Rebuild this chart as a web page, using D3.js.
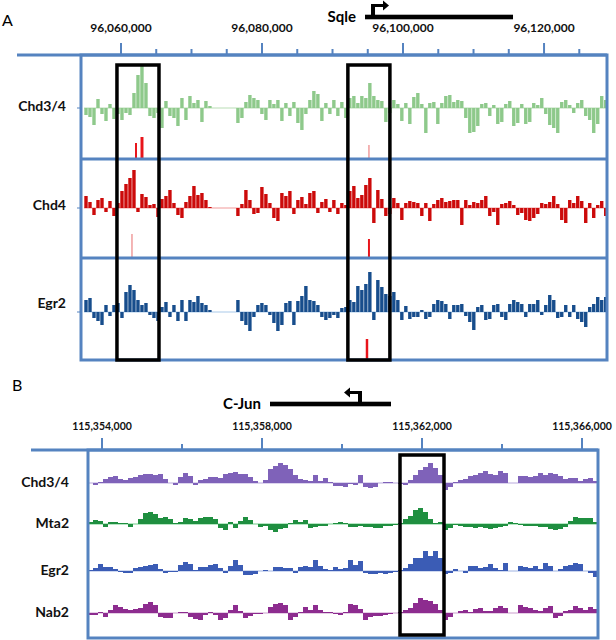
<!DOCTYPE html>
<html><head><meta charset="utf-8">
<script src="https://cdn.jsdelivr.net/npm/d3@7"></script>
<style>body{margin:0;background:#fff}</style>
</head><body>
<svg id="c" width="616" height="640"></svg>
<script>
// ---------------- Panel A data ----------------
const aTicksMajor = [96060000, 96080000, 96100000, 96120000];
const aTicksMinor = [96065000, 96070000, 96075000, 96085000, 96090000, 96095000, 96105000, 96110000, 96115000, 96125000];
const aTrackNames = ["Chd3/4", "Chd4", "Egr2"];
const aStart = 96054755;   // genomic start of first signal bin
const aStep = 567;         // bp per bin
const aChd34 = [-7,-9,-17,9,-6,-13,4,-11,-6,-12,-5,-7,15,33,42,25,-8,-10,-5,-20,7,-8,-10,-18,10,-12,12,5,8,-14,7,2,0,0,0,0,0,0,-15,-10,6,13,10,8,-6,-12,8,4,8,-13,5,-8,6,-15,-22,-6,8,17,14,-13,5,-6,8,-8,6,-10,10,12,5,12,10,25,12,8,7,-14,-5,8,4,-13,5,-16,11,15,4,-25,5,6,-16,5,12,13,6,8,7,-10,-25,-24,-18,4,5,-8,3,-16,-14,4,7,-18,-15,4,-16,-14,5,3,10,-6,-17,-20,-25,6,8,3,-5,5,8,-8,-12,-25,-16,12,8];
const aChd4 = [12,6,-7,8,10,-4,7,-8,5,17,24,30,38,-4,14,11,3,4,-9,9,12,18,5,-7,-10,6,12,22,13,15,8,1,0,0,0,0,0,0,-8,4,18,8,-6,-5,21,14,5,-10,-13,15,12,17,-6,8,11,4,15,17,-5,6,9,-4,8,-6,5,3,17,22,10,13,23,30,-15,18,9,-8,-6,10,5,-12,5,7,6,5,-8,5,-13,4,8,10,6,7,8,8,-17,8,3,6,5,8,12,-8,-4,-17,4,5,7,3,-7,-5,-12,-13,-10,-6,5,4,6,12,4,-12,-15,8,5,12,7,-15,5,-10,3,7,-8];
const aEgr2 = [12,14,-6,-9,-13,7,-4,7,9,-6,20,27,22,12,7,9,-3,-6,-9,5,10,-5,7,-9,12,-9,12,10,16,9,7,2,0,0,0,0,0,0,12,-9,-13,-19,-5,7,9,7,-3,-11,-19,-13,9,11,-13,11,16,26,12,11,7,-5,-8,-6,-3,-6,4,5,12,10,26,22,28,40,-8,32,25,18,16,20,12,-8,6,-7,-5,-5,2,-7,-5,8,12,11,8,-7,7,7,8,-4,-10,-18,5,7,-8,-7,7,8,-5,-8,8,12,10,8,-5,8,8,12,-3,7,17,12,-6,-5,7,-5,7,-7,-10,-15,5,8,15,12,15];
const aPeakTrack = [0, 0, 0, 1, 1, 2];
const aPeakPos = [96062130, 96062980, 96095170, 96061560, 96095170, 96094890];
const aPeakWidth = [280, 420, 140, 140, 280, 350];
const aPeakHeight = [15, 21, 13, 23, 18, 20];
const aBoxStart = [96059430, 96092180];
const aBoxEnd = [96065390, 96098140];
const aGene = ["Sqle"], aGeneStart = [96094610], aGeneEnd = [96115600], aGeneTss = [96095745], aGeneDir = [1];

// ---------------- Panel B data ----------------
const bTicksMajor = [115354000, 115358000, 115362000, 115366000];
const bTicksMinor = [115356000, 115360000, 115364000];
const bTrackNames = ["Chd3/4", "Mta2", "Egr2", "Nab2"];
const bStart = 115353650;
const bStep = 125;
const bChd34 = [0,-2,1,4,6,7,4,3,5,6,8,9,9,8,9,4,0,-2,6,10,7,-2,3,4,6,6,5,9,10,11,9,9,6,2,0,3,14,17,20,18,14,8,4,3,2,8,2,5,1,-3,-3,-4,-1,-2,8,-4,-5,-4,0,1,1,0,-1,-2,3,8,13,16,20,15,8,-7,-4,1,3,4,7,8,10,12,9,8,12,10,0,0,7,7,6,7,10,8,10,9,7,4,5,5,2,4,5,2];
const bMta2 = [2,4,3,-3,2,2,1,1,-3,0,5,11,12,10,6,7,5,1,2,6,5,3,6,7,7,5,-4,-6,2,-4,3,7,4,0,-3,-2,-6,-8,-5,-4,1,4,2,4,-4,-3,-2,-2,0,1,2,1,-3,-3,-2,-3,-3,-4,-4,-2,-2,-1,1,5,8,14,16,12,5,1,2,-6,-4,-1,-2,-3,-3,-4,-3,-4,-5,-4,-3,-2,2,1,-1,-2,-2,-2,-3,-3,-5,-6,-5,-3,3,7,6,6,6,2];
const bEgr2 = [1,3,7,4,4,2,-1,-2,-2,3,4,5,6,7,2,-2,-1,-1,6,9,7,1,4,4,6,7,3,-2,5,11,6,-4,-4,-3,0,1,0,4,4,3,3,-2,4,5,4,11,5,2,1,4,2,3,11,6,10,-2,-3,-3,-2,-3,-2,-1,1,3,7,13,13,20,15,20,13,-3,-2,2,0,-2,5,5,3,4,7,3,1,8,0,0,5,4,3,5,2,8,5,0,2,5,6,8,7,0,-2,-6];
const bNab2 = [-2,-2,1,-4,3,8,6,4,3,4,5,9,11,8,-4,-5,-5,0,1,1,-4,-6,-7,-2,1,-2,-7,-5,3,8,2,-5,-3,-1,-1,0,6,9,10,8,-7,-4,1,6,3,8,3,1,1,-1,-2,1,9,8,4,-7,-4,-3,-3,-2,-1,0,1,3,5,10,15,13,12,9,3,-7,-4,0,2,3,1,4,5,2,2,5,7,5,0,0,8,6,5,3,2,5,7,-5,-3,2,3,7,5,3,6,4];
const bBoxStart = [115361450], bBoxEnd = [115362550];
const bGene = ["C-Jun"], bGeneStart = [115358200], bGeneEnd = [115361225], bGeneTss = [115360450], bGeneDir = [-1];

// ---------------- drawing ----------------
const svg = d3.select("#c");
const frame = "#5583c0";
const font = "Lato, 'Open Sans', 'DejaVu Sans', sans-serif";

function wiggle(g, values, start, step, x, y, color, base, gap) {
  g.append("line").attr("x1", x(start)).attr("x2", x(start + step * values.length))
    .attr("y1", y(0)).attr("y2", y(0)).attr("stroke", base).attr("stroke-width", 1.2);
  g.selectAll(null).data(values).join("rect")
    .attr("x", (d, i) => x(start + i * step) + gap / 2)
    .attr("width", (d, i) => x(start + (i + 1) * step) - x(start + i * step) - gap)
    .attr("y", d => Math.min(y(0), y(d)))
    .attr("height", d => Math.abs(y(d) - y(0)))
    .attr("fill", color);
}

function gene(g, name, s, e, tss, dir, x, yLine) {
  g.append("rect").attr("x", x(s)).attr("y", yLine - 2.3).attr("width", x(e) - x(s)).attr("height", 4.6).attr("fill", "#000");
  const tx = x(tss);
  g.append("rect").attr("x", tx - 2).attr("y", yLine - 13).attr("width", 4).attr("height", 13).attr("fill", "#000");
  const hx = tx + dir * 10;
  g.append("line").attr("x1", tx).attr("x2", hx).attr("y1", yLine - 11.5).attr("y2", yLine - 11.5).attr("stroke", "#000").attr("stroke-width", 3);
  g.append("path").attr("d", `M${hx},${yLine - 16.5}L${hx + dir * 6},${yLine - 11.5}L${hx},${yLine - 6.5}Z`).attr("fill", "#000");
  g.append("text").attr("x", x(s) - 9).attr("y", yLine + 5).attr("text-anchor", "end")
    .attr("font-family", font).attr("font-weight", "bold").attr("font-size", 15).text(name);
}

// ===== Panel A =====
{
  const L = 81, R = 607, T = 55, B = 360;
  const x = d3.scaleLinear().domain([96054330, 96128930]).range([L, R]);
  const bases = [108, 208, 312];
  const divs = [159, 258];
  const colors = ["#8ec98b", "#cc0a0a", "#174d8c"];
  const baseCol = ["#b9ddb6", "#f19999", "#a9c9ea"];
  const data = [aChd34, aChd4, aEgr2];
  const g = svg.append("g");
  data.forEach((vals, k) => {
    const y = d3.scaleLinear().domain([-50, 50]).range([bases[k] + 50, bases[k] - 50]);
    wiggle(g, vals, aStart, aStep, x, y, colors[k], baseCol[k], 0.6);
  });
  // peak calls
  const bottoms = [divs[0], divs[1], B];
  g.selectAll(null).data(aPeakPos).join("rect")
    .attr("x", (d, i) => x(d - aPeakWidth[i] / 2))
    .attr("width", (d, i) => x(d + aPeakWidth[i] / 2) - x(d - aPeakWidth[i] / 2))
    .attr("y", (d, i) => bottoms[aPeakTrack[i]] - 1 - aPeakHeight[i])
    .attr("height", (d, i) => aPeakHeight[i])
    .attr("fill", (d, i) => aPeakWidth[i] <= 140 ? "#e86a6a" : "#e8141b");
  // frame
  g.append("line").attr("x1", 17).attr("x2", R).attr("y1", T).attr("y2", T).attr("stroke", frame).attr("stroke-width", 3);
  g.append("rect").attr("x", L).attr("y", T).attr("width", R - L).attr("height", B - T).attr("fill", "none").attr("stroke", frame).attr("stroke-width", 3);
  divs.forEach(d => g.append("line").attr("x1", L).attr("x2", R).attr("y1", d).attr("y2", d).attr("stroke", frame).attr("stroke-width", 3));
  bases.forEach(b => g.append("line").attr("x1", L - 4).attr("x2", L).attr("y1", b).attr("y2", b).attr("stroke", frame).attr("stroke-width", 1));
  // ticks
  aTicksMajor.forEach(t => {
    g.append("line").attr("x1", x(t)).attr("x2", x(t)).attr("y1", T - 12).attr("y2", T).attr("stroke", frame).attr("stroke-width", 2);
    g.append("text").attr("x", x(t)).attr("y", T - 23).attr("text-anchor", "middle").attr("font-family", font)
      .attr("font-weight", "bold").attr("font-size", 12).attr("fill", "#111").text(d3.format(",")(t));
  });
  aTicksMinor.forEach(t => g.append("line").attr("x1", x(t)).attr("x2", x(t)).attr("y1", T - 6).attr("y2", T).attr("stroke", frame).attr("stroke-width", 2));
  // highlight boxes
  aBoxStart.forEach((s, i) => g.append("rect").attr("x", x(s)).attr("y", 65).attr("width", x(aBoxEnd[i]) - x(s)).attr("height", B - 65)
    .attr("fill", "none").attr("stroke", "#000").attr("stroke-width", 3.5));
  // labels
  const ly = [111, 210, 308];
  aTrackNames.forEach((n, i) => g.append("text").attr("x", 66).attr("y", ly[i]).attr("text-anchor", "end").attr("font-family", font)
    .attr("font-weight", "bold").attr("font-size", 14).attr("fill", "#111").text(n));
  g.append("text").attr("x", 2).attr("y", 26).attr("font-family", font).attr("font-size", 16).text("A");
  gene(g, aGene[0], aGeneStart[0], aGeneEnd[0], aGeneTss[0], aGeneDir[0], x, 17);
}

// ===== Panel B =====
{
  const L = 88, R = 598, T = 450, B = 638;
  const x = d3.scaleLinear().domain([115353650, 115366400]).range([L, R]);
  const bases = [483, 524, 571, 613];
  const colors = ["#7f62b9", "#1f8f40", "#3b5cb5", "#8d2c8f"];
  const baseCol = ["#b9aadd", "#6fcf88", "#9fb3e2", "#cc9dce"];
  const data = [bChd34, bMta2, bEgr2, bNab2];
  const g = svg.append("g");
  data.forEach((vals, k) => {
    const y = d3.scaleLinear().domain([-30, 30]).range([bases[k] + 30, bases[k] - 30]);
    wiggle(g, vals, bStart, bStep, x, y, colors[k], baseCol[k], 0);
  });
  g.append("line").attr("x1", 31).attr("x2", R).attr("y1", T).attr("y2", T).attr("stroke", frame).attr("stroke-width", 3);
  g.append("rect").attr("x", L).attr("y", T).attr("width", R - L).attr("height", B - T).attr("fill", "none").attr("stroke", frame).attr("stroke-width", 3);
  bTicksMajor.forEach(t => {
    g.append("line").attr("x1", x(t)).attr("x2", x(t)).attr("y1", T - 12).attr("y2", T).attr("stroke", frame).attr("stroke-width", 2);
    g.append("text").attr("x", x(t)).attr("y", T - 20).attr("text-anchor", "middle").attr("font-family", font)
      .attr("font-weight", "bold").attr("font-size", 10.5).attr("fill", "#111").text(d3.format(",")(t));
  });
  bTicksMinor.forEach(t => g.append("line").attr("x1", x(t)).attr("x2", x(t)).attr("y1", T - 6).attr("y2", T).attr("stroke", frame).attr("stroke-width", 2));
  bBoxStart.forEach((s, i) => g.append("rect").attr("x", x(s)).attr("y", 455).attr("width", x(bBoxEnd[i]) - x(s)).attr("height", 180)
    .attr("fill", "none").attr("stroke", "#000").attr("stroke-width", 3.5));
  const ly = [487, 528, 575, 617];
  bTrackNames.forEach((n, i) => g.append("text").attr("x", 69).attr("y", ly[i]).attr("text-anchor", "end").attr("font-family", font)
    .attr("font-weight", "bold").attr("font-size", 14).attr("fill", "#111").text(n));
  g.append("text").attr("x", 12).attr("y", 391).attr("font-family", font).attr("font-size", 16).text("B");
  gene(g, bGene[0], bGeneStart[0], bGeneEnd[0], bGeneTss[0], bGeneDir[0], x, 404);
}
</script>
</body></html>
